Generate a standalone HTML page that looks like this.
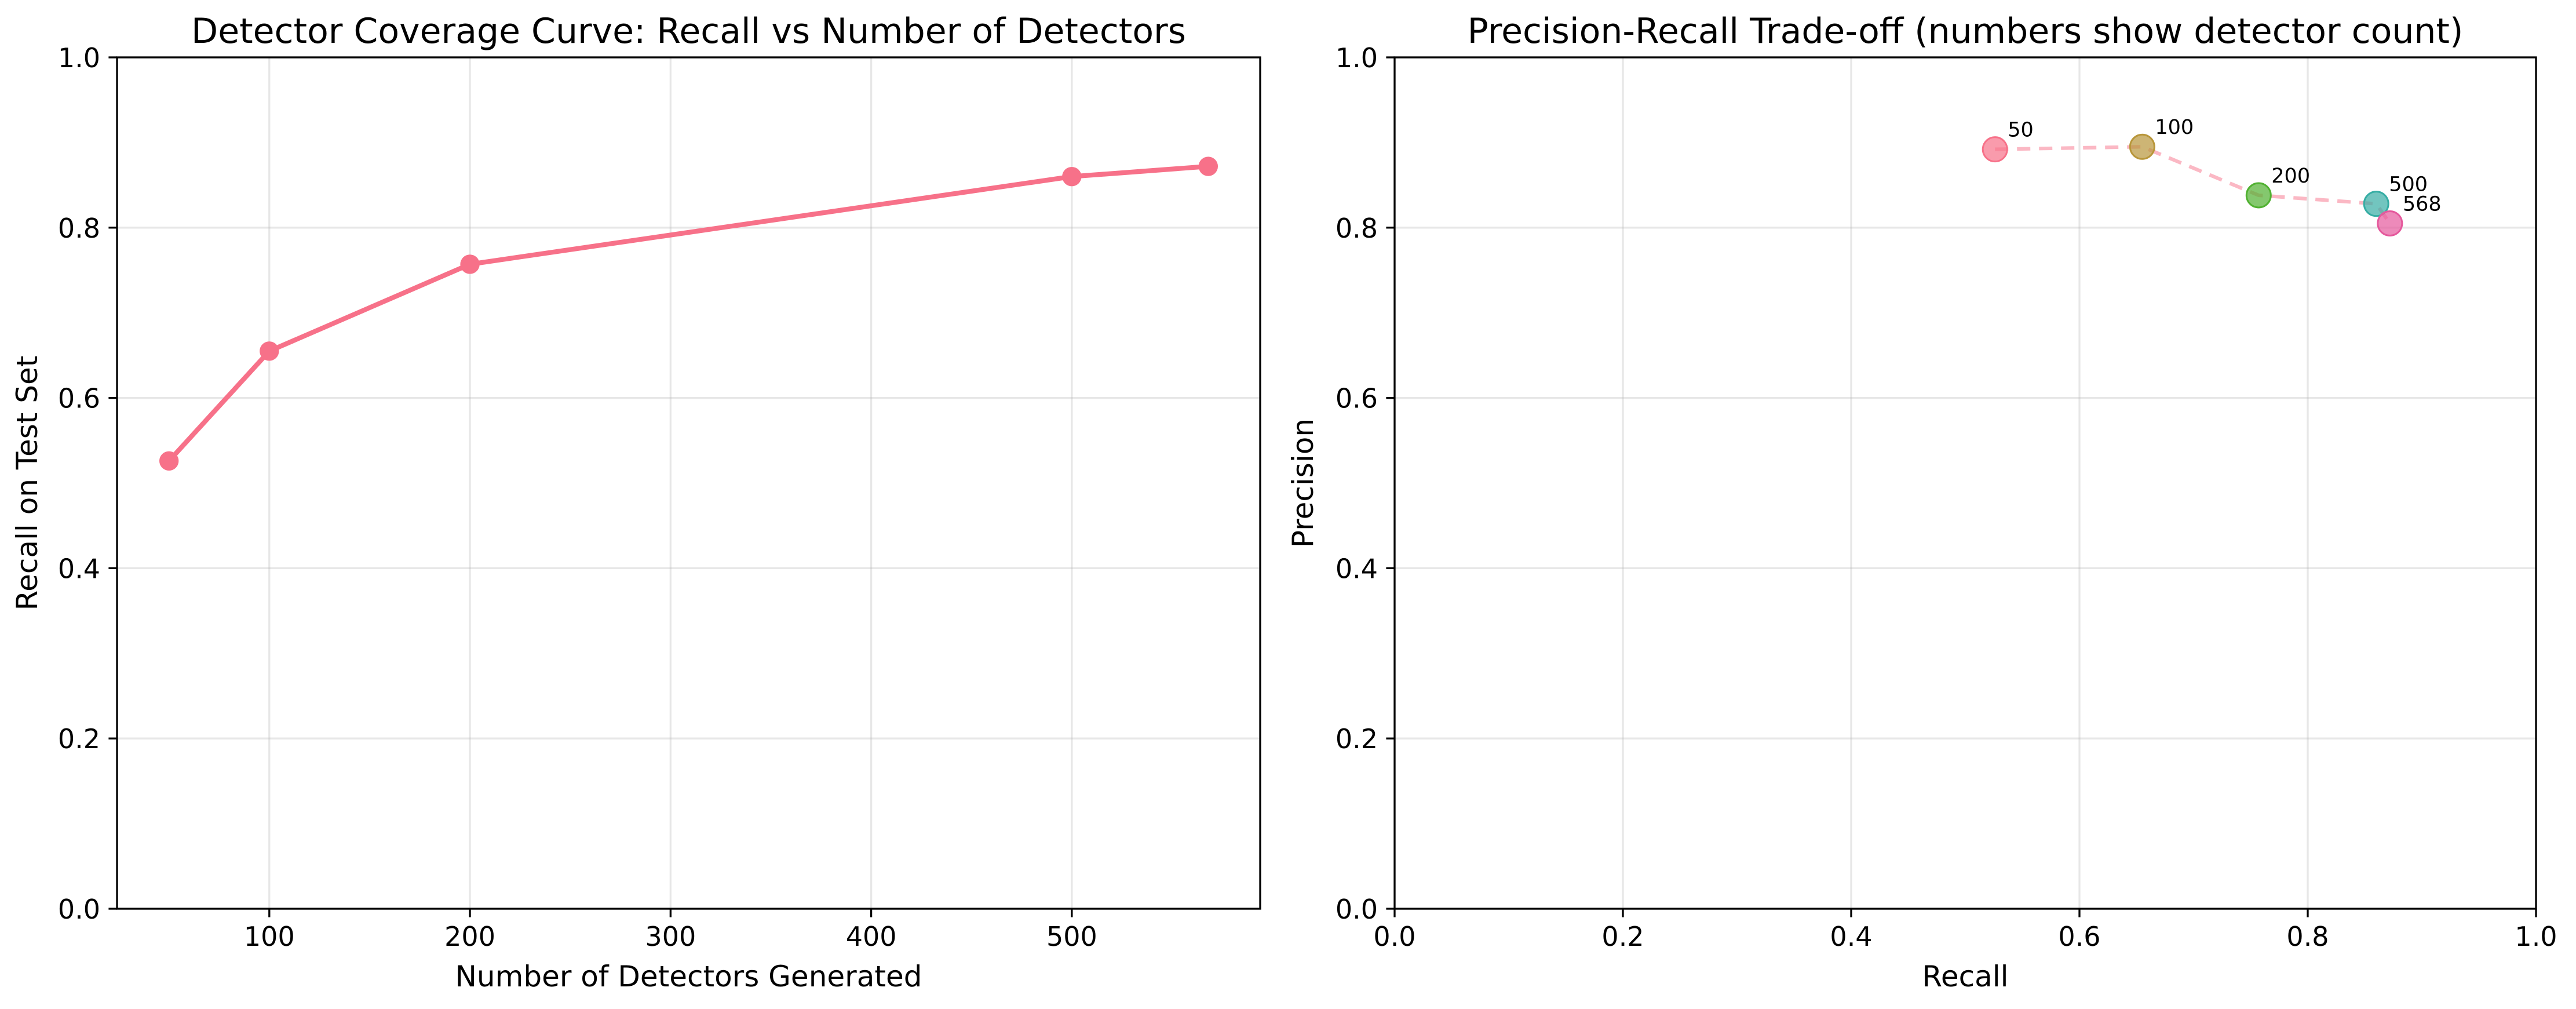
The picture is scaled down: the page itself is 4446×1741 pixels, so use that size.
<!DOCTYPE html>
<html><head><meta charset="utf-8"><style>
html,body{margin:0;padding:0;background:#fff;}
svg{display:block;font-family:"DejaVu Sans","Liberation Sans",sans-serif;}
</style></head><body>
<svg id="fig" width="4446" height="1741" viewBox="0 0 4446 1741" xmlns="http://www.w3.org/2000/svg">
<rect width="4446" height="1741" fill="#fff"/>
<g id="left"></g>
<g id="right"></g>
</svg>
<script>
const detectorCounts = [50, 100, 200, 500, 568];
const recallValues = [0.526, 0.655, 0.757, 0.860, 0.872];
const precisionValues = [0.892, 0.895, 0.838, 0.828, 0.805];
const leftXTicks = [100, 200, 300, 400, 500];
const yTicks = [0.0, 0.2, 0.4, 0.6, 0.8, 1.0];
const rightXTicks = [0.0, 0.2, 0.4, 0.6, 0.8, 1.0];
const pointColors = ['#f77189', '#b8963a', '#50b131', '#36ada4', '#e5589c'];

const NS = 'http://www.w3.org/2000/svg';
function mk(parent, tag, attrs, text) {
  const e = document.createElementNS(NS, tag);
  for (const k in attrs) e.setAttribute(k, attrs[k]);
  if (text !== undefined) e.textContent = text;
  parent.appendChild(e);
  return e;
}
const TOP = 99, BOT = 1568;
const FS = 46;
const LFS = 50;

function axes(g, L, R, xMin, xMax, xt, fmtX, title, xlabel, ylabel, ylabX) {
  const sx = v => L + (v - xMin) / (xMax - xMin) * (R - L);
  const sy = v => BOT - v * (BOT - TOP);
  xt.forEach(v => {
    const l = mk(g, 'line', {x1: sx(v), x2: sx(v), y1: TOP, y2: BOT, stroke: '#b0b0b0', 'stroke-opacity': 0.3, 'stroke-width': 3.3});
    
    
  });
  yTicks.forEach(v => {
    const l = mk(g, 'line', {x1: L, x2: R, y1: sy(v), y2: sy(v), stroke: '#b0b0b0', 'stroke-opacity': 0.3, 'stroke-width': 3.3});
    
    
  });
  xt.forEach(v => {
    mk(g, 'line', {x1: sx(v), x2: sx(v), y1: BOT, y2: BOT + 14.6, stroke: '#000', 'stroke-width': 3.3});
    const t = mk(g, 'text', {x: sx(v), y: BOT + 64, 'font-size': FS, 'text-anchor': 'middle'}, fmtX(v));
    
    
  });
  yTicks.forEach(v => {
    mk(g, 'line', {x1: L - 14.6, x2: L, y1: sy(v), y2: sy(v), stroke: '#000', 'stroke-width': 3.3});
    const t = mk(g, 'text', {x: L - 29, y: sy(v) + 17, 'font-size': FS, 'text-anchor': 'end'}, v.toFixed(1));
    
    
  });
  const tt = mk(g, 'text', {x: (L + R) / 2, y: 74, 'font-size': 60, 'text-anchor': 'middle'}, title);
  
  
  const xl = mk(g, 'text', {x: (L + R) / 2, y: 1702, 'font-size': LFS, 'text-anchor': 'middle'}, xlabel);
  
  
  const yl = mk(g, 'text', {x: ylabX, y: (TOP + BOT) / 2, 'font-size': LFS, 'text-anchor': 'middle', transform: `rotate(-90 ${ylabX} ${(TOP + BOT) / 2})`}, ylabel);
  
  
  return {sx, sy, frame: () => {
    const f = mk(g, 'rect', {x: L, y: TOP, width: R - L, height: BOT - TOP, fill: 'none', stroke: '#000', 'stroke-width': 3.3});
    
    
  }};
}

const gl = document.getElementById('left');
const span = 568 - 50;
const A = axes(gl, 202, 2175, 50 - span * 0.05, 568 + span * 0.05, leftXTicks, v => String(v),
  'Detector Coverage Curve: Recall vs Number of Detectors', 'Number of Detectors Generated', 'Recall on Test Set', 64);
const pts = detectorCounts.map((d, i) => `${A.sx(d)},${A.sy(recallValues[i])}`).join(' ');
const line = mk(gl, 'polyline', {points: pts, fill: 'none', stroke: '#f77189', 'stroke-width': 8.3, 'stroke-linejoin': 'round'});


detectorCounts.forEach((d, i) => {
  const c = mk(gl, 'circle', {cx: A.sx(d), cy: A.sy(recallValues[i]), r: 16.7, fill: '#f77189'});
  
  
});
A.frame();

const gr = document.getElementById('right');
const B = axes(gr, 2407, 4377, 0, 1, rightXTicks, v => v.toFixed(1),
  'Precision-Recall Trade-off (numbers show detector count)', 'Recall', 'Precision', 2266);
const pts2 = recallValues.map((r, i) => `${B.sx(r)},${B.sy(precisionValues[i])}`).join(' ');
const dl = mk(gr, 'polyline', {points: pts2, fill: 'none', stroke: '#f77189', 'stroke-opacity': 0.5, 'stroke-width': 6.2, 'stroke-dasharray': '23 15'});


recallValues.forEach((r, i) => {
  const c = mk(gr, 'circle', {cx: B.sx(r), cy: B.sy(precisionValues[i]), r: 21, fill: pointColors[i], 'fill-opacity': 0.7, stroke: pointColors[i], 'stroke-width': 3});
  
  
  const t = mk(gr, 'text', {x: B.sx(r) + 22, y: B.sy(precisionValues[i]) - 22, 'font-size': 35}, String(detectorCounts[i]));
  
  
});
B.frame();
</script>
</body></html>
